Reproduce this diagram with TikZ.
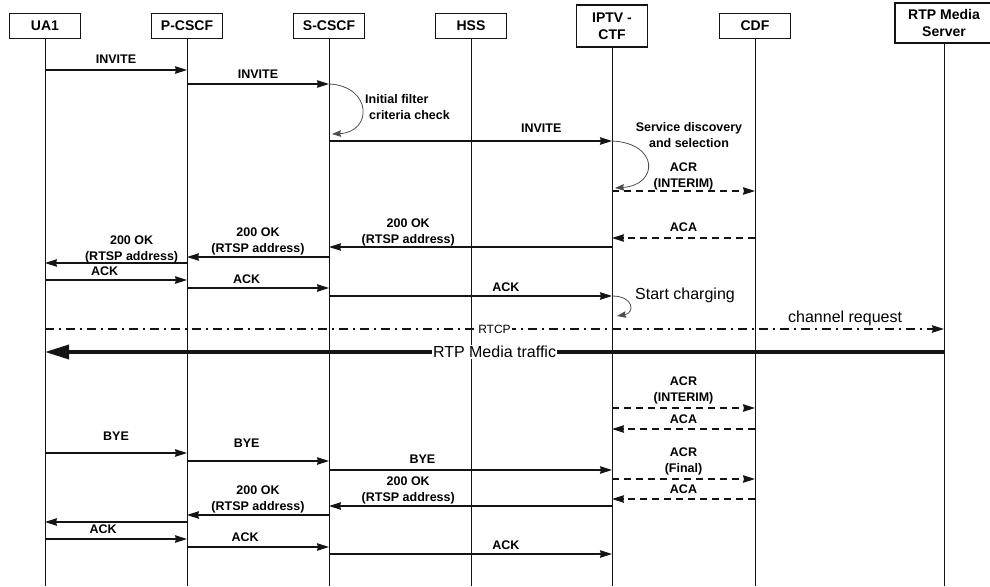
\documentclass[tikz,border=0pt]{standalone}
\usepackage{fontspec}
\setmainfont{Liberation Sans}
\usepackage{xcolor}
\usepackage{tikz}
\usetikzlibrary{
  arrows.meta,
  positioning,
  calc
}
\definecolor{sdInk}{HTML}{141414}
\definecolor{sdLoop}{HTML}{4D4D4D}

\tikzset{
  entity/.style={draw=sdInk, line width=1.1pt, minimum width=71pt, minimum height=25pt, inner sep=1pt, align=center, font=\fontsize{14}{17}\selectfont\bfseries},
  lifeline/.style={draw=sdInk, line width=0.9pt},
  msg/.style={draw=sdInk, line width=1.1pt, -{Stealth[length=12pt, width=7.5pt, inset=1pt]}},
  acct/.style={msg, dash pattern=on 7pt off 5pt},
  selfloop/.style={draw=sdLoop, line width=0.8pt, -{Stealth[length=9pt, width=6.5pt, inset=1pt]}},
  lbl/.style={above, inner sep=3.5pt, text depth=0pt, align=center, font=\fontsize{12.5}{16}\selectfont\bfseries},
  looplbl/.style={inner sep=1pt, font=\fontsize{12.5}{16}\selectfont\bfseries},
  remark/.style={inner sep=1pt, font=\fontsize{16}{19}\selectfont},
}

\begin{document}
\begin{tikzpicture}[x=1pt, y=-1pt]
  \useasboundingbox (0,0) rectangle (990,586);
  \node[entity] (ua) at (45,26) {UA1};
  \node[entity] (pcscf) at (187,26) {P-CSCF};
  \node[entity] (scscf) at (329,26) {S-CSCF};
  \node[entity] (hss) at (471,26) {HSS};
  \node[entity, minimum height=42pt] (iptv) at (612,26) {IPTV -\\CTF};
  \node[entity] (cdf) at (755,26) {CDF};
  \node[entity, minimum width=98pt, minimum height=40pt] (rtp) at (944,23) {RTP Media\\Server};
  \coordinate (floor) at (0,586);
  \foreach \e in {ua,pcscf,scscf,hss,iptv,cdf,rtp}
    \draw[lifeline] (\e.south) -- (\e.south |- floor);

  \draw[msg] (ua |- 0,70) -- (pcscf |- 0,70) node[lbl, midway, yshift=2pt] {INVITE};
  \draw[msg] (pcscf |- 0,84) -- (scscf |- 0,84) node[lbl, midway, yshift=1pt] {INVITE};
  \draw[selfloop] (scscf |- 0,84) .. controls +(43,2) and +(41,-2) .. ($(scscf |- 0,134)+(3,0)$);
  \node[looplbl, anchor=west, align=left] (ifc) at (364,107) {Initial filter\\\hspace*{4pt}criteria check};
  \draw[msg] (scscf |- 0,141) -- (iptv |- 0,141) node[lbl, pos=0.75, yshift=4pt] {INVITE};
  \draw[selfloop] (iptv |- 0,141) .. controls +(47,2) and +(44,-3) .. ($(iptv |- 0,188)+(3,0)$);
  \node[looplbl, align=center] (sds) at (689,135) {Service discovery\\and selection};
  \draw[acct] (iptv |- 0,191) -- (cdf |- 0,191) node[lbl, midway, yshift=-1pt] {ACR\\(INTERIM)};
  \draw[acct] (cdf |- 0,238) -- (iptv |- 0,238) node[lbl, midway, yshift=2.5pt] {ACA};
  \draw[msg] (iptv |- 0,247) -- (scscf |- 0,247) node[lbl, pos=0.72, yshift=-1pt] {200 OK\\(RTSP address)};
  \draw[msg] (scscf |- 0,257) -- (pcscf |- 0,257) node[lbl, midway] {200 OK\\(RTSP address)};
  \draw[msg] (pcscf |- 0,263) -- (ua |- 0,263) node[lbl, pos=0.39, yshift=-2pt] {200 OK\\(RTSP address)};
  \draw[msg] (ua |- 0,280) -- (pcscf |- 0,280) node[lbl, pos=0.42] {ACK};
  \draw[msg] (pcscf |- 0,288) -- (scscf |- 0,288) node[lbl, pos=0.42] {ACK};
  \draw[msg] (scscf |- 0,296) -- (iptv |- 0,296) node[lbl, pos=0.625] {ACK};
  \draw[selfloop] (iptv |- 0,296) .. controls +(22,0) and +(18,-3) .. ($(iptv |- 0,316)+(5,0)$);
  \node[remark, anchor=west] (chg) at (634,295) {Start charging};
  \draw[msg, dash pattern=on 9pt off 5pt on 2pt off 5pt] (ua |- 0,329) -- (rtp |- 0,329)
    node[midway, fill=white, inner sep=1pt, font=\fontsize{12}{14}\selectfont] {RTCP}
    node[remark, pos=0.89, above, inner sep=2.5pt] {channel request};
  \draw[draw=sdInk, line width=3.5pt, -{Stealth[length=24pt, width=14pt, inset=0pt]}] (rtp |- 0,352) -- (ua |- 0,352)
    node[remark, midway, fill=white] {RTP Media traffic};

  \draw[acct] (iptv |- 0,408) -- (cdf |- 0,408) node[lbl, midway, yshift=2pt] {ACR\\(INTERIM)};
  \draw[acct] (cdf |- 0,429) -- (iptv |- 0,429) node[lbl, midway, yshift=1pt] {ACA};
  \draw[msg] (ua |- 0,453) -- (pcscf |- 0,453) node[lbl, midway, yshift=8pt] {BYE};
  \draw[msg] (pcscf |- 0,461) -- (scscf |- 0,461) node[lbl, pos=0.42, yshift=9pt] {BYE};
  \draw[msg] (scscf |- 0,470) -- (iptv |- 0,470) node[lbl, pos=0.33, yshift=2pt] {BYE};
  \draw[acct] (iptv |- 0,479) -- (cdf |- 0,479) node[lbl, midway, yshift=2pt] {ACR\\(Final)};
  \draw[acct] (cdf |- 0,499) -- (iptv |- 0,499) node[lbl, midway, yshift=1pt] {ACA};
  \draw[msg] (iptv |- 0,506) -- (scscf |- 0,506) node[lbl, pos=0.72] {200 OK\\(RTSP address)};
  \draw[msg] (scscf |- 0,515) -- (pcscf |- 0,515) node[lbl, midway] {200 OK\\(RTSP address)};
  \draw[msg] (pcscf |- 0,522) -- (ua |- 0,522);
  \draw[msg] (ua |- 0,539) -- (pcscf |- 0,539) node[lbl, pos=0.41, yshift=1pt] {ACK};
  \draw[msg] (pcscf |- 0,547) -- (scscf |- 0,547) node[lbl, pos=0.41, yshift=1pt] {ACK};
  \draw[msg] (scscf |- 0,554) -- (iptv |- 0,554) node[lbl, pos=0.625] {ACK};
\end{tikzpicture}
\end{document}
